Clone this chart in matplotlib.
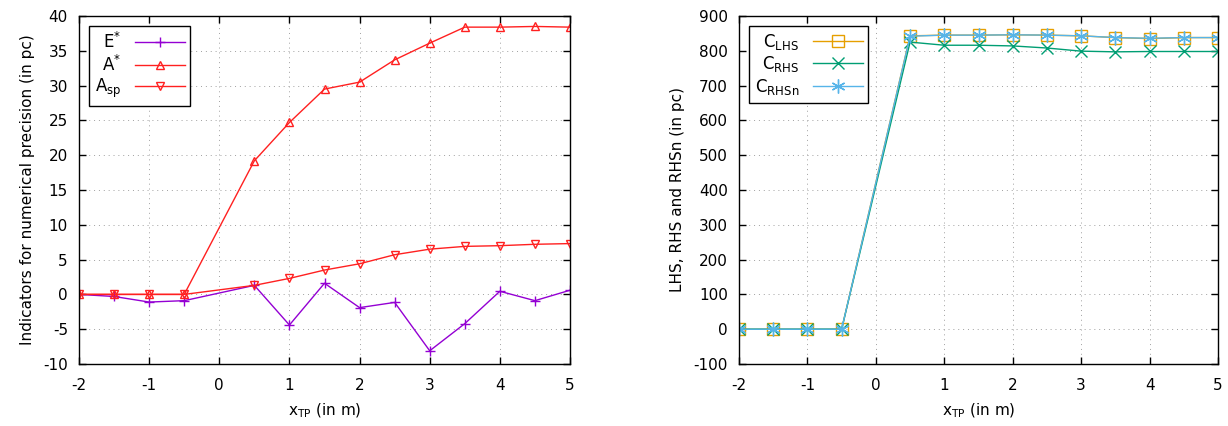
import matplotlib
matplotlib.use("Agg")
import matplotlib.pyplot as plt

plt.rcParams['font.family'] = ['DejaVu Sans']
plt.rcParams['font.size'] = 11
plt.rcParams['mathtext.default'] = 'regular'
plt.rcParams['axes.unicode_minus'] = False

x_tp = [-2, -1.5, -1, -0.5, 0.5, 1, 1.5, 2, 2.5, 3, 3.5, 4, 4.5, 5]

# indicators for numerical precision (pc)
e_star = [0.0, -0.3, -1.1, -0.9, 1.3, -4.4, 1.6, -1.9, -1.15, -8.1, -4.2, 0.45, -0.9, 0.6]
a_star = [0.0, 0.0, 0.0, 0.0, 19.2, 24.7, 29.5, 30.5, 33.7, 36.1, 38.4, 38.4, 38.5, 38.4]
a_sp = [0.0, 0.0, 0.0, 0.0, 1.3, 2.3, 3.5, 4.4, 5.7, 6.5, 6.9, 7.0, 7.2, 7.3]

# LHS / RHS sums (pc)
c_lhs = [0, 0, 0, 0, 843, 845, 845, 846, 845, 843, 838, 835, 838, 838]
c_rhs = [0, 0, 0, 0, 825, 816, 816, 814, 808, 799, 797, 798, 798, 798]
c_rhsn = [0, 0, 0, 0, 842, 845, 845, 846, 845, 843, 838, 836, 838, 838]

PURPLE = '#9400d3'
RED = '#ff2020'
ORANGE = '#e69f00'
GREEN = '#009e73'
BLUE = '#56b4e9'

fig = plt.figure(figsize=(12.28, 4.26), dpi=100)
ax1 = fig.add_axes([79 / 1228, 1 - 364 / 426, 491 / 1228, 348 / 426])
ax2 = fig.add_axes([739 / 1228, 1 - 364 / 426, 479 / 1228, 348 / 426])


def style(ax):
    ax.set_xlim(-2, 5)
    ax.grid(True, linestyle=(0, (1, 4)), color='#a0a0a0', linewidth=0.7)
    ax.tick_params(direction='in', top=True, right=True, length=5, width=1,
                   labelsize=11)
    ax.tick_params(axis='x', pad=10)
    ax.tick_params(axis='y', pad=8)
    for s in ax.spines.values():
        s.set_linewidth(1.0)
    ax.set_xticks(range(-2, 6))
    ax.set_xlabel('x$_{TP}$ (in m)', fontsize=11, labelpad=6)


def legend(ax):
    leg = ax.legend(loc='upper left', markerfirst=False, fancybox=False, framealpha=1,
                    edgecolor='black', fontsize=12, handlelength=3, borderaxespad=0.6,
                    labelspacing=0.15, handletextpad=0.8, borderpad=0.35)
    leg.get_frame().set_linewidth(1.0)
    return leg


ax1.plot(x_tp, e_star, color=PURPLE, marker='+', ms=7, mew=1, lw=1, label='E$^{*}$')
ax1.plot(x_tp, a_star, color=RED, marker='^', ms=6, mfc='none', mew=1, lw=1, label='A$^{*}$')
ax1.plot(x_tp, a_sp, color=RED, marker='v', ms=6, mfc='none', mew=1, lw=1, label='A$_{sp}$')
style(ax1)
ax1.set_ylim(-10, 40)
ax1.set_yticks(range(-10, 41, 5))
ax1.set_ylabel('Indicators for numerical precision (in pc)', fontsize=11, labelpad=6)
legend(ax1)

ax2.plot(x_tp, c_lhs, color=ORANGE, marker='s', ms=9, mfc='none', mew=1, lw=1, label='C$_{LHS}$')
ax2.plot(x_tp, c_rhs, color=GREEN, marker='x', ms=9, mew=1, lw=1, label='C$_{RHS}$')
ax2.plot(x_tp, c_rhsn, color=BLUE, marker=(6, 2, 0), ms=10, mew=1, lw=1, label='C$_{RHSn}$')
style(ax2)
ax2.set_ylim(-100, 900)
ax2.set_yticks(range(-100, 901, 100))
ax2.set_ylabel('LHS, RHS and RHSn (in pc)', fontsize=11, labelpad=6)
legend(ax2)

fig.savefig('out.png', dpi=100)
